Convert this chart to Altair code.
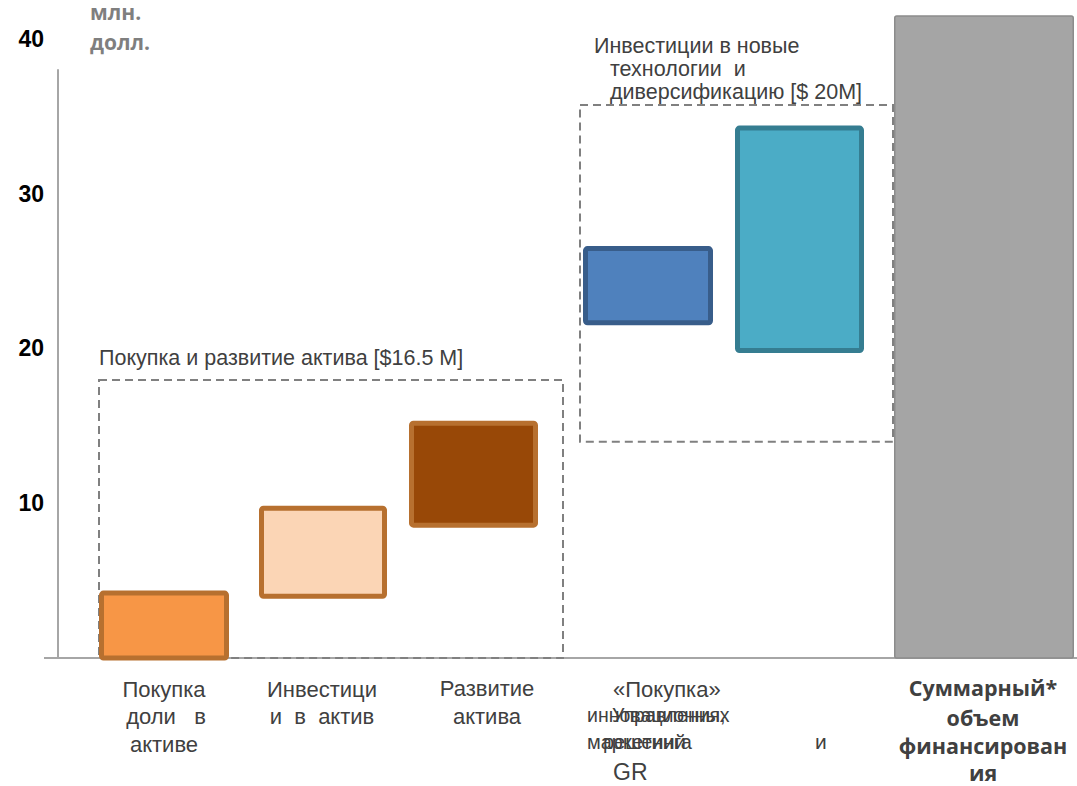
import altair as alt
import pandas as pd

# ---- data (млн. долл.) ----
stage_names = [
    "Покупка доли в активе",
    "Инвестиции в актив",
    "Развитие актива",
    "«Покупка» инновационных маркетинговых решений",
    "Управления, решений и GR",
    "Суммарный* объем финансирования",
]
stage_low = [0.0, 4.0, 8.6, 21.7, 19.9, 0.0]
stage_high = [4.2, 9.7, 15.2, 26.5, 34.3, 41.55]

group_titles = ["Покупка и развитие актива [$16.5 M]",
                "Инвестиции в новые технологии и диверсификацию [$ 20M]"]
group_low = [0.0, 14.0]
group_high = [18.0, 35.8]

tick_values = [10, 20, 30, 40]

# ---- layout ----
W, H = 1077, 786
BASE_PX, TOP_PX, TOP_VAL = 658, 40, 40
px_per_unit = (BASE_PX - TOP_PX) / TOP_VAL
Y_DOMAIN = [-(H - BASE_PX) / px_per_unit, TOP_VAL + TOP_PX / px_per_unit]
NB = "\u00a0"  # non-breaking space keeps the wide gaps inside labels


def to_val(py):
    """Convert a vertical page position into axis units."""
    return (BASE_PX - py) / px_per_unit


stage_left = [101.5, 261.5, 411.5, 585.5, 737.5, 894.75]
stage_right = [226.5, 384.5, 535.5, 710.5, 861.5, 1073.25]
stage_fill = ["#F79646", "#FBD5B5", "#984807", "#4F81BD", "#4BACC6", "#A5A5A5"]
stage_stroke = ["#B7702F", "#B7702F", "#B7702F", "#385D8A", "#357D91", "#8C8C8C"]
stage_width = [5, 5, 5, 5, 5, 1.5]

group_left = [99, 580]
group_right = [563, 893]

xs = alt.Scale(domain=[0, W], nice=False, zero=False)
ys = alt.Scale(domain=Y_DOMAIN, nice=False, zero=False)
X = lambda f: alt.X(f, type="quantitative", scale=xs, axis=None)
Y = lambda f: alt.Y(f, type="quantitative", scale=ys, axis=None)

bars = pd.DataFrame({
    "name": stage_names, "lo": stage_low, "hi": stage_high,
    "x0": stage_left, "x1": stage_right,
    "fill": stage_fill, "stroke": stage_stroke, "sw": stage_width,
})
groups = pd.DataFrame({"title": group_titles, "lo": group_low, "hi": group_high,
                       "x0": group_left, "x1": group_right})
ticks = pd.DataFrame({"v": tick_values, "label": [str(t) for t in tick_values],
                      "x": [44] * len(tick_values)})

# axis lines
axis_lines = pd.DataFrame({
    "x0": [58, 44], "x1": [58, W], "lo": [0, 0], "hi": [38.1, 0],
})
lines = alt.Chart(axis_lines).mark_rule(color="#A6A6A6", strokeWidth=2).encode(
    x=X("x0"), x2="x1", y=Y("lo"), y2="hi")

# dashed group frames
frames = alt.Chart(groups).mark_rect(
    fillOpacity=0, stroke="#808080", strokeWidth=2, strokeDash=[8, 5]
).encode(x=X("x0"), x2="x1", y=Y("lo"), y2="hi")

stage_bars = alt.Chart(bars).mark_rect(cornerRadius=2).encode(
    x=X("x0"), x2="x1", y=Y("lo"), y2="hi",
    fill=alt.Fill("fill:N", scale=None),
    stroke=alt.Stroke("stroke:N", scale=None),
    strokeWidth=alt.StrokeWidth("sw:Q", scale=None),
)

# y tick labels
tick_text = alt.Chart(ticks).mark_text(
    align="right", baseline="middle", font="Liberation Sans", fontSize=23,
    fontWeight="bold", color="#000000"
).encode(x=X("x"), y=Y("v"), text="label:N")


def text_layer(rows, baseline="middle", **style):
    df = pd.DataFrame(rows, columns=["x", "py", "t", "size"])
    df["v"] = df["py"].map(to_val)
    return alt.Chart(df).mark_text(baseline=baseline, **style).encode(
        x=X("x"), y=Y("v"), text="t:N",
        size=alt.Size("size:Q", scale=None, legend=None))


unit_label = text_layer(
    [(90, 20, "млн.", 21), (90, 50, "долл.", 21)],
    baseline="alphabetic", align="left", font="Open Sans", fontWeight="bold",
    color="#7F7F7F")

group1_label = text_layer(
    [(99, 359, group_titles[0], 21.5)],
    align="left", font="Liberation Sans", color="#404040")
group2_label = text_layer(
    [(594, 47, "Инвестиции в новые", 21.5), (610, 70, f"технологии{NB}{NB}и", 21.5),
     (610, 93, "диверсификацию [$ 20M]", 21.5)],
    align="left", font="Liberation Sans", color="#404040")

stage_labels = text_layer(
    [(164, 690, "Покупка", 22), (166, 717, f"доли{NB}{NB}{NB}в", 22),
     (164, 745, "активе", 22),
     (322, 690, "Инвестици", 22), (322, 717, f"и{NB}{NB}в{NB}{NB}актив", 22),
     (487, 689, "Развитие", 22), (487, 717, "актива", 22)],
    align="center", font="Liberation Sans", color="#404040")

overlap_a = text_layer(
    [(613, 690, "«Покупка»", 22), (587, 716, "инновационных", 19.5),
     (587, 743, "маркетинга", 20)],
    align="left", font="Liberation Sans", color="#404040")
overlap_b = text_layer(
    [(612, 716, "Управления,", 19.5), (603, 743, "решений", 20), (815, 743, "и", 21),
     (613, 773, "GR", 23)],
    align="left", font="Liberation Sans", color="#404040")

total_label = text_layer(
    [(983, 690, "Суммарный*", 21.5), (983, 720, "объем", 21.5),
     (983, 748, "финансирован", 21.5), (983, 775, "ия", 21.5)],
    align="center", font="Open Sans", fontWeight="bold", color="#404040")

chart = alt.layer(
    lines, frames, stage_bars, tick_text, unit_label,
    group1_label, group2_label, stage_labels, overlap_a, overlap_b, total_label,
).properties(
    width=W, height=H, padding=0, autosize=alt.AutoSizeParams(type="none")
).configure_view(stroke=None)

chart.save("out.html", embed_options={"renderer": "svg", "actions": False})
